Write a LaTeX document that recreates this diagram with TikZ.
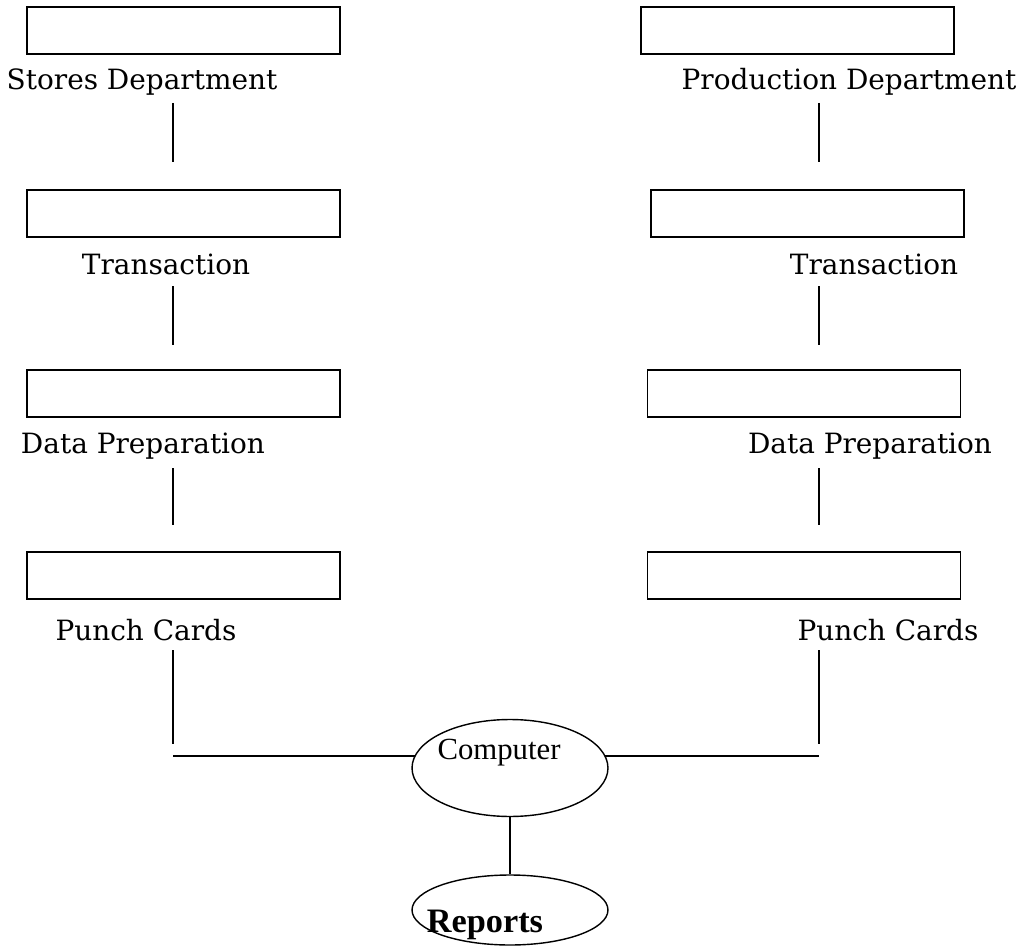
\documentclass[tikz,border=0pt]{standalone}
\usepackage{fontspec}
\setmainfont{DejaVu Serif}
\newfontfamily\timesfont{Liberation Serif}
\usetikzlibrary{positioning,shapes.geometric}

\begin{document}
\begin{tikzpicture}[x=0.02cm,y=-0.02cm,
    box/.style={draw, line width=0.9pt, minimum width=6.26cm, minimum height=0.94cm, inner sep=0pt},
    lbl/.style={font=\fontsize{15.9}{18}\selectfont, inner sep=0pt},
    blob/.style={ellipse, draw, line width=0.8pt, minimum width=3.92cm, inner sep=0pt},
    link/.style={line width=0.8pt}]
      \useasboundingbox (0,0) rectangle (1025,946);
      % left column
      \node[box] (sbox) at (183.5,30.5) {};
      \node[box] (tlbox) at (183.5,213.5) {};
      \node[box] (dlbox) at (183.5,393.5) {};
      \node[box] (plbox) at (183.5,575.5) {};
      \node[lbl] (store) at (142,82) {Stores Department};
      \node[lbl] (tleft) at (166,264) {Transaction};
      \node[lbl] (dleft) at (143,446) {Data Preparation};
      \node[lbl] (pleft) at (146,630) {Punch Cards};
      % right column
      \node[box] (prbox) at (797.5,30.5) {};
      \node[box] (trbox) at (807.5,213.5) {};
      \node[box] (drbox) at (804,393.5) {};
      \node[box] (pcbox) at (804,575.5) {};
      \node[lbl] (prod) at (849,82) {Production Department};
      \node[lbl] (tright) at (874,264) {Transaction};
      \node[lbl] (dright) at (870,446) {Data Preparation};
      \node[lbl] (pright) at (888,630) {Punch Cards};
      % computer and reports
      \node[blob, minimum height=1.94cm] (comp) at (510,768) {};
      \node[font=\timesfont\fontsize{17.5}{20}\selectfont, inner sep=0pt] (comptext) at (499,753) {Computer};
      \node[blob, minimum height=1.4cm] (rep) at (510,910) {};
      \node[font=\timesfont\bfseries\fontsize{19.5}{22}\selectfont, inner sep=0pt] (reptext) at (485,925) {Reports};
      % line ends
      \coordinate (l1) at (173,103); \coordinate (l2) at (173,162);
      \coordinate (l3) at (173,286); \coordinate (l4) at (173,345);
      \coordinate (l5) at (173,468); \coordinate (l6) at (173,525);
      \coordinate (l7) at (173,650); \coordinate (l8) at (173,744);
      \coordinate (lj) at (173,756);
      \coordinate (r1) at (819,103); \coordinate (r2) at (819,162);
      \coordinate (r3) at (819,286); \coordinate (r4) at (819,345);
      \coordinate (r5) at (819,468); \coordinate (r6) at (819,525);
      \coordinate (r7) at (819,650); \coordinate (r8) at (819,744);
      \coordinate (rj) at (819,756);
      \draw[link] (l1) -- (l2);
      \draw[link] (l3) -- (l4);
      \draw[link] (l5) -- (l6);
      \draw[link] (l7) -- (l8);
      \draw[link] (r1) -- (r2);
      \draw[link] (r3) -- (r4);
      \draw[link] (r5) -- (r6);
      \draw[link] (r7) -- (r8);
      \draw[link] (lj) -- (comp.172 |- lj);
      \draw[link] (comp.8 |- rj) -- (rj);
      \draw[link] (comp.south) -- (rep.north);
    \end{tikzpicture}
\end{document}
